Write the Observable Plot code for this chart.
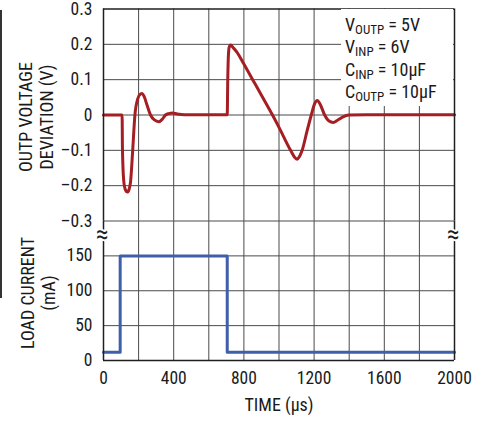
<!DOCTYPE html>
<html><head><meta charset="utf-8">
<script src="https://cdn.jsdelivr.net/npm/d3@7"></script>
<script src="https://cdn.jsdelivr.net/npm/@observablehq/plot@0.6"></script>
<style>
body{margin:0;background:#fff;}
#wrap{position:relative;width:490px;height:421px;overflow:hidden;font-family:"Roboto Condensed","DejaVu Sans Condensed",sans-serif;color:#1a1a1a;}
#wrap svg{position:absolute;left:0;top:0;background:transparent;overflow:visible;}
.ylab{position:absolute;transform:translate(-50%,-50%) rotate(-90deg);white-space:nowrap;text-align:center;font-size:18px;line-height:21px;}
#legend{position:absolute;left:341px;top:9px;width:112px;height:97px;background:#fff;padding-left:4px;padding-top:6px;box-sizing:border-box;font-size:18px;line-height:20.3px;white-space:nowrap;}
#legend .s{font-size:13px;position:relative;top:3px;}
#edge{position:absolute;left:0;top:10px;width:2px;height:288px;background:#333;}
</style></head>
<body>
<div id="wrap">
<div id="edge"></div>
</div>
<script>
// ---- data ----
const vTime = [0,106,108,116,126,136,146,154,167,179,196,210,220,232,248,268,290,315,335,353,372,391,420,460,705,708,713,718,724,740,760,800,850,900,963,1000,1066,1090,1104,1116,1132,1160,1184,1200,1218,1235,1260,1285,1309,1335,1365,1398,1500,2000];
const vDev  = [0,0,-0.095,-0.19,-0.213,-0.218,-0.21,-0.19,-0.095,0,0.047,0.059,0.061,0.052,0.028,0,-0.014,-0.019,-0.012,0,0.004,0.006,0.003,0.001,0.001,0.1,0.18,0.195,0.198,0.19,0.178,0.144,0.1,0.056,0,-0.035,-0.1,-0.12,-0.125,-0.118,-0.1,-0.045,0,0.028,0.041,0.03,0,-0.017,-0.021,-0.014,-0.005,0,0.001,0.001];
const loadTime = [0,95,705,2000];
const loadCurrent = [12,150,12,12];
const xGrid = [200,400,600,800,1000,1200,1400,1600,1800];
const xTicks = [0,400,800,1200,1600,2000];
const xTickLabels = ["0","400","800","1200","1600","2000"];
const vTicks = [-0.3,-0.2,-0.1,0,0.1,0.2,0.3];
const vTickLabels = ["–0.3","–0.2","–0.1","0","0.1","0.2","0.3"];
const vGrid = [-0.3,-0.2,-0.1,0,0.1,0.2];
const iTicks = [0,50,100,150];
const iTickLabels = ["0","50","100","150"];
const iGrid = [50,100,150];
const breakAt = [0,2000];

const red = "#a51e24", blue = "#3f5fab", gridC = "#4a4a4a", frameC = "#1f1f1f";
const font = "'Roboto Condensed','DejaVu Sans Condensed',sans-serif";
const vData = vTime.map((t,i)=>({t, v:vDev[i]}));
const iData = loadTime.map((t,i)=>({t, i:loadCurrent[i]}));

const common = {width:490, height:421, marginLeft:103, marginRight:36,
  style:{fontFamily:font, fontSize:"17.5px", background:"transparent", color:"#1a1a1a", overflow:"visible"}};

const topPlot = Plot.plot({
  ...common, marginTop:8.5, marginBottom:200.5,
  x:{domain:[0,2000], axis:null},
  y:{domain:[-0.3,0.3], axis:null},
  marks:[
    Plot.ruleX(xGrid, {stroke:gridC, strokeWidth:1}),
    Plot.ruleY(vGrid, {stroke:gridC, strokeWidth:1}),
    Plot.line(vData, {x:"t", y:"v", stroke:red, strokeWidth:3, curve:"monotone-x"}),
    Plot.ruleX([0,2000], {stroke:frameC, strokeWidth:1.5}),
    Plot.ruleY([0.3], {stroke:frameC, strokeWidth:1.5}),
    Plot.axisY(vTicks, {tickSize:0, tickPadding:11, fontSize:17.5, label:null, tickFormat:(d,i)=>vTickLabels[i]})
  ]
});

const botPlot = Plot.plot({
  ...common, marginTop:220.5, marginBottom:61,
  x:{domain:[0,2000], axis:null},
  y:{domain:[0,200], axis:null},
  marks:[
    Plot.ruleX(xGrid, {stroke:gridC, strokeWidth:1}),
    Plot.ruleY(iGrid, {stroke:gridC, strokeWidth:1}),
    Plot.line(iData, {x:"t", y:"i", stroke:blue, strokeWidth:3, curve:"step-after"}),
    Plot.ruleX([0,2000], {stroke:frameC, strokeWidth:1.5}),
    Plot.ruleY([0], {stroke:frameC, strokeWidth:1.5}),
    Plot.text(breakAt, {x:d=>d, y:181, dx:-1, text:()=>"≈", fontSize:26, fill:frameC, stroke:"white", strokeWidth:4, paintOrder:"stroke"}),
    Plot.axisY(iTicks, {tickSize:0, tickPadding:11, fontSize:17.5, label:null, tickFormat:(d,i)=>iTickLabels[i]}),
    Plot.axisX(xTicks, {tickSize:0, tickPadding:11, fontSize:17.5, label:null, tickFormat:(d,i)=>xTickLabels[i]}),
    Plot.text(["TIME (µs)"], {frameAnchor:"bottom", dy:45, fontSize:18, lineAnchor:"middle", fill:"#1a1a1a"})
  ]
});

const wrap = document.getElementById("wrap");
wrap.appendChild(topPlot);
wrap.appendChild(botPlot);

function addDiv(cls, html, style){
  const d = document.createElement("div");
  if (cls) d.className = cls; else d.id = "legend";
  d.innerHTML = html; Object.assign(d.style, style||{});
  wrap.appendChild(d); return d;
}
addDiv("ylab", "OUTP VOLTAGE<br>DEVIATION (V)", {left:"35.5px", top:"117px"});
addDiv("ylab", "LOAD CURRENT<br>(mA)", {left:"37.5px", top:"293px"});
addDiv(null,
  'V<span class="s">OUTP</span> = 5V<br>V<span class="s">INP</span> = 6V<br>C<span class="s">INP</span> = 10µF<br>C<span class="s">OUTP</span> = 10µF');
</script>
</body></html>
